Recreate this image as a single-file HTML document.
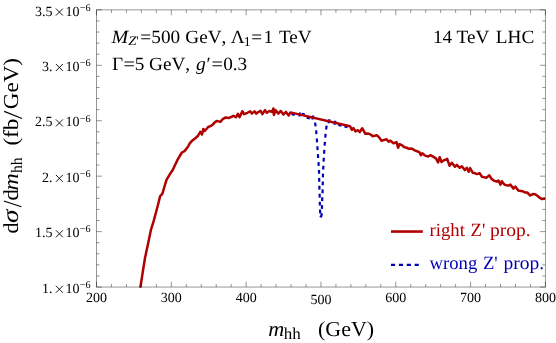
<!DOCTYPE html>
<html><head><meta charset="utf-8"><title>plot</title>
<style>
html,body{margin:0;padding:0;background:#fff;}
svg{display:block;will-change:transform;}
text{font-family:"Liberation Serif",serif;fill:#000;font-kerning:none;text-rendering:geometricPrecision;}
</style></head><body>
<svg width="556" height="343" viewBox="0 0 556 343">
<rect width="556" height="343" fill="#fff"/>
<defs><clipPath id="c"><rect x="96.5" y="9.85" width="448.90" height="278.00"/></clipPath></defs>
<g clip-path="url(#c)" fill="none" stroke-linejoin="round">
<path d="M315.04 122.60L315.62 126.40M316.09 130.40L316.46 134.20M316.81 138.50L317.10 142.30M317.38 146.30L317.62 150.10M317.88 154.20L318.14 158.00M318.46 162.10L318.71 165.90M318.94 170.00L319.09 173.80M319.16 177.90L319.25 181.70M319.35 185.80L319.47 189.60M319.63 193.80L319.73 197.60M319.78 201.70L319.86 205.50M319.99 209.50L320.30 213.30M326.61 125.70L326.09 129.50M325.61 133.90L325.25 137.70M324.90 141.90L324.62 145.70M324.33 149.90L324.08 153.70M323.82 157.80L323.60 161.60M323.40 165.70L323.20 169.50M322.99 173.60L322.88 177.40M322.82 181.50L322.75 185.30M322.65 189.40L322.50 193.20M322.30 197.30L322.15 201.10M322.05 205.10L321.88 208.90M321.90 213.20L321.00 217.30M320.50 215.60L321.00 217.30M291.50 114.15L294.70 114.90M300.20 112.55L299.20 116.55M301.90 113.76L304.70 114.41M306.70 117.67L309.90 118.42M313.30 115.59L312.30 119.59M329.50 119.34L328.50 123.34M335.40 120.70L334.40 124.70M338.30 124.99L341.50 125.73M344.40 126.40L347.60 127.14" stroke="#0000b4" stroke-width="2.2"/>
<polyline points="140.30,288.00 142.60,273.00 145.00,258.00 148.00,244.00 150.90,230.00 153.70,220.80 156.10,212.00 158.40,203.30 160.10,196.30 162.40,193.60 164.20,187.50 166.60,179.60 169.80,174.40 172.70,170.00 177.50,159.90 179.70,156.01 181.90,152.50 184.50,151.10 188.00,146.80 189.80,143.30 192.40,140.47 195.00,138.40 197.60,136.30 200.30,131.90 202.00,134.50 203.40,128.90 204.70,131.00 208.20,127.00 210.35,126.12 212.50,124.90 214.70,122.43 216.90,120.90 220.40,121.90 223.00,118.80 225.70,117.50 229.20,117.90 231.35,116.89 233.50,115.80 236.10,117.10 237.90,113.80 239.60,117.20 242.30,111.20 244.00,114.20 247.50,112.80 250.10,111.20 251.90,113.60 254.50,111.40 256.30,113.60 258.45,112.00 260.60,110.70 262.40,114.20 265.00,110.10 266.80,112.80 269.40,111.00 272.00,111.90 273.40,108.50 273.90,115.00 275.50,110.10 278.20,113.60 280.80,111.00 283.40,114.50 286.00,111.90 288.70,115.40 290.40,112.40 350.00,126.20 351.90,129.80 353.50,128.20 355.50,131.40 357.80,130.20 359.80,132.20 362.20,128.20 365.40,133.80 367.80,133.40 370.25,134.31 372.70,136.20 374.70,135.71 376.70,135.20 379.15,137.44 381.60,140.70 384.10,139.93 386.60,139.30 388.60,141.70 390.50,140.70 393.50,143.30 396.50,142.10 398.10,147.70 399.50,144.10 401.95,145.23 404.40,147.30 406.40,147.55 408.40,148.70 410.35,148.62 412.30,148.70 414.30,150.21 416.30,151.00 419.30,152.20 420.90,155.20 422.30,153.20 425.20,155.60 428.20,156.60 430.20,155.20 433.20,156.60 436.10,158.60 438.10,162.50 439.70,157.20 441.50,162.00 444.35,160.04 447.20,158.90 449.50,165.70 451.90,162.80 454.90,166.80 456.80,164.80 459.80,167.80 461.80,166.20 464.80,170.10 466.80,167.80 468.70,171.70 470.10,168.10 472.70,172.70 474.70,173.10 476.70,174.10 479.60,173.10 482.00,176.70 484.30,177.34 486.60,177.70 489.20,175.30 491.50,178.70 494.00,180.64 496.50,181.60 498.50,180.60 500.50,184.60 501.80,181.20 504.40,184.60 506.40,185.18 508.40,185.60 510.40,184.60 513.30,188.60 515.30,186.60 518.30,190.50 520.80,190.89 523.30,191.50 525.25,192.52 527.20,192.50 530.20,195.50 533.20,193.90 535.15,194.20 537.10,195.50 539.60,197.69 542.10,199.10 545.40,198.50" stroke="#b00000" stroke-width="2.5"/>
</g>
<g stroke="#000" stroke-opacity="0.46" stroke-width="0.9" fill="none">
<rect x="96.5" y="9.85" width="448.90" height="277.20"/>
<path d="M96.50 287.05v-5.4M96.50 9.85v5.4M111.46 287.05v-3.1M111.46 9.85v3.1M126.43 287.05v-3.1M126.43 9.85v3.1M141.39 287.05v-3.1M141.39 9.85v3.1M156.35 287.05v-3.1M156.35 9.85v3.1M171.32 287.05v-5.4M171.32 9.85v5.4M186.28 287.05v-3.1M186.28 9.85v3.1M201.24 287.05v-3.1M201.24 9.85v3.1M216.21 287.05v-3.1M216.21 9.85v3.1M231.17 287.05v-3.1M231.17 9.85v3.1M246.13 287.05v-5.4M246.13 9.85v5.4M261.10 287.05v-3.1M261.10 9.85v3.1M276.06 287.05v-3.1M276.06 9.85v3.1M291.02 287.05v-3.1M291.02 9.85v3.1M305.99 287.05v-3.1M305.99 9.85v3.1M320.95 287.05v-5.4M320.95 9.85v5.4M335.91 287.05v-3.1M335.91 9.85v3.1M350.88 287.05v-3.1M350.88 9.85v3.1M365.84 287.05v-3.1M365.84 9.85v3.1M380.80 287.05v-3.1M380.80 9.85v3.1M395.77 287.05v-5.4M395.77 9.85v5.4M410.73 287.05v-3.1M410.73 9.85v3.1M425.69 287.05v-3.1M425.69 9.85v3.1M440.66 287.05v-3.1M440.66 9.85v3.1M455.62 287.05v-3.1M455.62 9.85v3.1M470.58 287.05v-5.4M470.58 9.85v5.4M485.55 287.05v-3.1M485.55 9.85v3.1M500.51 287.05v-3.1M500.51 9.85v3.1M515.47 287.05v-3.1M515.47 9.85v3.1M530.44 287.05v-3.1M530.44 9.85v3.1M545.40 287.05v-5.4M545.40 9.85v5.4M96.5 287.05h5.4M545.4 287.05h-5.4M96.5 275.96h3.1M545.4 275.96h-3.1M96.5 264.87h3.1M545.4 264.87h-3.1M96.5 253.79h3.1M545.4 253.79h-3.1M96.5 242.70h3.1M545.4 242.70h-3.1M96.5 231.61h5.4M545.4 231.61h-5.4M96.5 220.52h3.1M545.4 220.52h-3.1M96.5 209.43h3.1M545.4 209.43h-3.1M96.5 198.35h3.1M545.4 198.35h-3.1M96.5 187.26h3.1M545.4 187.26h-3.1M96.5 176.17h5.4M545.4 176.17h-5.4M96.5 165.08h3.1M545.4 165.08h-3.1M96.5 153.99h3.1M545.4 153.99h-3.1M96.5 142.91h3.1M545.4 142.91h-3.1M96.5 131.82h3.1M545.4 131.82h-3.1M96.5 120.73h5.4M545.4 120.73h-5.4M96.5 109.64h3.1M545.4 109.64h-3.1M96.5 98.55h3.1M545.4 98.55h-3.1M96.5 87.47h3.1M545.4 87.47h-3.1M96.5 76.38h3.1M545.4 76.38h-3.1M96.5 65.29h5.4M545.4 65.29h-5.4M96.5 54.20h3.1M545.4 54.20h-3.1M96.5 43.11h3.1M545.4 43.11h-3.1M96.5 32.03h3.1M545.4 32.03h-3.1M96.5 20.94h3.1M545.4 20.94h-3.1M96.5 9.85h5.4M545.4 9.85h-5.4"/>
</g>
<g font-size="14">
<text x="96.50" y="302.1" text-anchor="middle">200</text>
<text x="171.32" y="302.1" text-anchor="middle">300</text>
<text x="246.13" y="302.1" text-anchor="middle">400</text>
<text x="320.95" y="304.1" text-anchor="middle">500</text>
<text x="395.77" y="302.1" text-anchor="middle">600</text>
<text x="470.58" y="302.1" text-anchor="middle">700</text>
<text x="545.40" y="302.1" text-anchor="middle">800</text>
<text x="52.5" y="292.75" text-anchor="end">1.</text><path d="M55.90 285.75L62.90 292.75M55.90 292.75L62.90 285.75" stroke="#000" stroke-width="0.9" fill="none"/><text x="65.6" y="292.75">10</text><text x="79.7" y="287.85" font-size="10.2">−6</text>
<text x="52.5" y="237.31" text-anchor="end">1.5</text><path d="M55.90 230.31L62.90 237.31M55.90 237.31L62.90 230.31" stroke="#000" stroke-width="0.9" fill="none"/><text x="65.6" y="237.31">10</text><text x="79.7" y="232.41" font-size="10.2">−6</text>
<text x="52.5" y="181.87" text-anchor="end">2.</text><path d="M55.90 174.87L62.90 181.87M55.90 181.87L62.90 174.87" stroke="#000" stroke-width="0.9" fill="none"/><text x="65.6" y="181.87">10</text><text x="79.7" y="176.97" font-size="10.2">−6</text>
<text x="52.5" y="126.43" text-anchor="end">2.5</text><path d="M55.90 119.43L62.90 126.43M55.90 126.43L62.90 119.43" stroke="#000" stroke-width="0.9" fill="none"/><text x="65.6" y="126.43">10</text><text x="79.7" y="121.53" font-size="10.2">−6</text>
<text x="52.5" y="70.99" text-anchor="end">3.</text><path d="M55.90 63.99L62.90 70.99M55.90 70.99L62.90 63.99" stroke="#000" stroke-width="0.9" fill="none"/><text x="65.6" y="70.99">10</text><text x="79.7" y="66.09" font-size="10.2">−6</text>
<text x="52.5" y="15.55" text-anchor="end">3.5</text><path d="M55.90 8.55L62.90 15.55M55.90 15.55L62.90 8.55" stroke="#000" stroke-width="0.9" fill="none"/><text x="65.6" y="15.55">10</text><text x="79.7" y="10.65" font-size="10.2">−6</text>
</g>
<text transform="translate(268.2,336) scale(1.04,1)" font-size="21.33" font-style="italic">m</text>
<text transform="translate(283.7,339.4) scale(1.03,1)" font-size="16.5">hh</text>
<text transform="translate(318.0,336) scale(1.03,1)" font-size="21.33">(GeV)</text>
<text transform="translate(18.4,233.5) rotate(-90) scale(1.04,1)" font-size="21.33">d</text>
<text transform="translate(18.4,222.9) rotate(-90) scale(1.17,1)" font-size="23.3" font-style="italic">σ</text>
<line x1="21.4" y1="206.7" x2="3.8" y2="201.0" stroke="#000" stroke-width="1.2"/>
<text transform="translate(18.4,200.4) rotate(-90) scale(1.06,1)" font-size="21.33">d</text>
<text transform="translate(18.4,190.6) rotate(-90) scale(1.12,1)" font-size="21.33" font-style="italic">m</text>
<text transform="translate(21.799999999999997,172.9) rotate(-90) scale(0.97,1)" font-size="16">hh</text>
<text transform="translate(18.4,145.6) rotate(-90) scale(1.08,1)" font-size="21.33">(fb</text>
<line x1="22.0" y1="118.5" x2="4.2" y2="111.4" stroke="#000" stroke-width="1.2"/>
<text transform="translate(18.4,109.2) rotate(-90) scale(1.08,1)" font-size="21.33">GeV)</text>
<text transform="translate(111.6,42.6) scale(1.08,1)" font-size="18.67" font-style="italic">M</text>
<text transform="translate(128.3,45.4) scale(1.12,1)" font-size="13.0" font-style="italic">Z</text>
<text transform="translate(136.3,45.0) scale(1.0,1)" font-size="13.0">'</text>
<text transform="translate(140.2,42.6) scale(1.03,1)" font-size="18.67">=</text>
<text transform="translate(151.3,42.6) scale(1.03,1)" font-size="18.67">500</text>
<text transform="translate(185.3,42.6) scale(1.03,1)" font-size="18.67">GeV,</text>
<text transform="translate(230.8,42.6) scale(1.03,1)" font-size="18.67">Λ</text>
<text transform="translate(243.8,46.0) scale(1.03,1)" font-size="13.5">1</text>
<text transform="translate(251.3,42.6) scale(1.03,1)" font-size="18.67">=</text>
<text transform="translate(263.4,42.6) scale(1.03,1)" font-size="18.67">1</text>
<text transform="translate(279.0,42.6) scale(1.03,1)" font-size="18.67">T<tspan dx="-1.4">eV</tspan></text>
<text transform="translate(112.0,70) scale(1.03,1)" font-size="18.67">Γ</text>
<text transform="translate(123.6,70) scale(1.08,1)" font-size="18.67">=</text>
<text transform="translate(134.8,70) scale(1.03,1)" font-size="18.67">5</text>
<text transform="translate(149.0,70) scale(1.03,1)" font-size="18.67">GeV,</text>
<text transform="translate(196.0,70) scale(1.05,1)" font-size="18.67" font-style="italic">g</text>
<text transform="translate(206.6,70) scale(1.03,1)" font-size="18.67">′</text>
<text transform="translate(211.4,70) scale(1.08,1)" font-size="18.67">=</text>
<text transform="translate(223.2,70) scale(1.03,1)" font-size="18.67">0.3</text>
<text transform="translate(432.9,42.6) scale(1.03,1)" font-size="18.67">14</text>
<text transform="translate(534.2,42.6) scale(1.03,1)" font-size="18.67" text-anchor="end" word-spacing="1.6">T<tspan dx="-1.4">eV</tspan> LHC</text>
<text transform="translate(429.6,236.0) scale(1.0,1)" font-size="18.67" style="fill:#b00000" word-spacing="1.0">right Z'</text>
<text transform="translate(490.1,236.0) scale(1.045,1)" font-size="18.67" style="fill:#b00000">prop.</text>
<text transform="translate(429.6,268.6) scale(1.0,1)" font-size="18.67" style="fill:#0000b4" word-spacing="1.0">wrong Z'</text>
<text transform="translate(503.6,268.6) scale(1.045,1)" font-size="18.67" style="fill:#0000b4">prop.</text>
<line x1="391" y1="231.55" x2="422.8" y2="231.55" stroke="#b00000" stroke-width="2.6"/>
<line x1="391" y1="264.8" x2="422" y2="264.8" stroke="#0000b4" stroke-width="2.3" stroke-dasharray="4.1 3.8"/>
</svg>
</body></html>
